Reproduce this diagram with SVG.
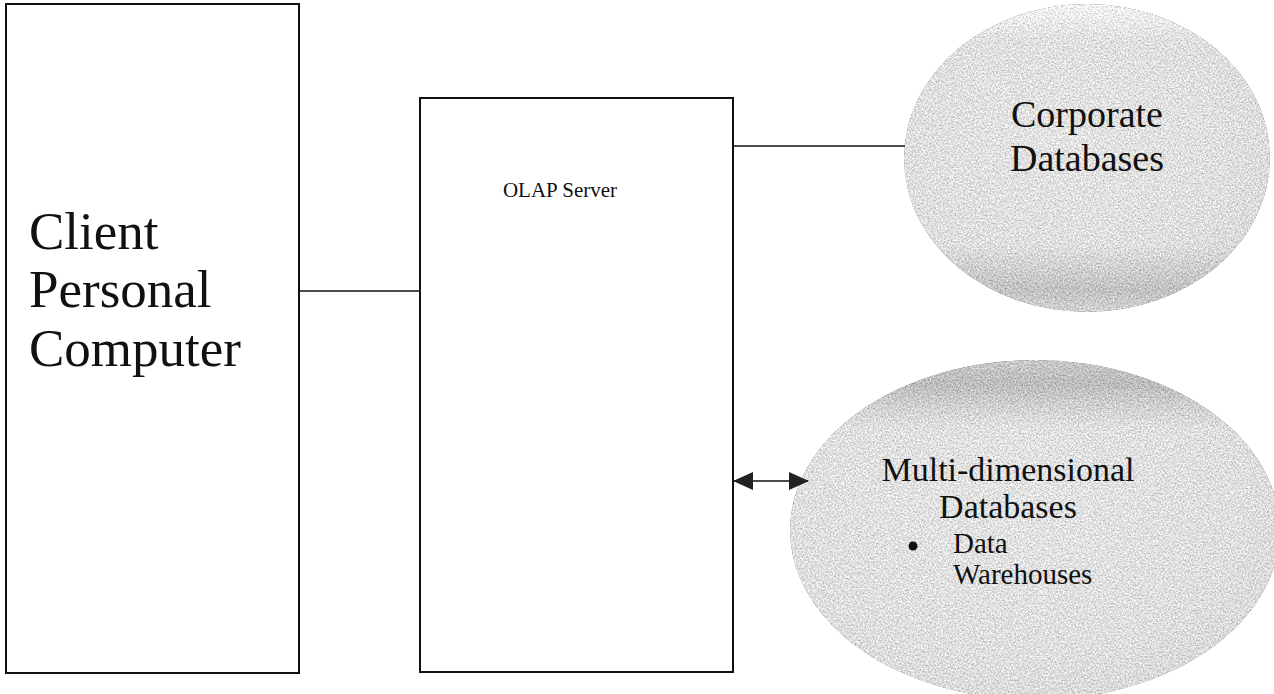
<svg xmlns="http://www.w3.org/2000/svg" width="1274" height="694" viewBox="0 0 1274 694">
  <style>
    .box { fill: #ffffff; stroke: #111111; stroke-width: 2; }
    .wire { fill: none; stroke: #111111; stroke-width: 1.6; }
    .serif { font-family: "Liberation Serif", "Times New Roman", serif; fill: #111111; }
  </style>
  <defs>
    <!-- speckled surface for the database discs: gray noise added onto the fill, clipped to the shape -->
    <filter id="grain" x="0" y="0" width="100%" height="100%" color-interpolation-filters="sRGB">
      <feTurbulence type="fractalNoise" baseFrequency="0.6" numOctaves="3" seed="7" result="n"/>
      <feColorMatrix in="n" type="matrix" values="1 0 0 0 0  1 0 0 0 0  1 0 0 0 0  0 0 0 0 1" result="gray"/>
      <feComposite in="SourceGraphic" in2="gray" operator="arithmetic" k1="0" k2="1" k3="0.5" k4="-0.24" result="mix"/>
      <feComposite in="mix" in2="SourceGraphic" operator="in"/>
    </filter>
    <radialGradient id="discFill" cx="0.45" cy="0.42" r="0.62">
      <stop offset="0" stop-color="#e0e0e0"/>
      <stop offset="0.75" stop-color="#dcdcdc"/>
      <stop offset="1" stop-color="#d6d6d6"/>
    </radialGradient>
    <linearGradient id="shadeBottom" x1="0" y1="0" x2="0" y2="1">
      <stop offset="0.78" stop-color="#a4a4a4" stop-opacity="0"/>
      <stop offset="0.93" stop-color="#a4a4a4" stop-opacity="0.5"/>
      <stop offset="1" stop-color="#a4a4a4" stop-opacity="0.15"/>
    </linearGradient>
    <linearGradient id="shadeTop" x1="0" y1="0" x2="0" y2="1">
      <stop offset="0" stop-color="#9c9c9c" stop-opacity="0.35"/>
      <stop offset="0.07" stop-color="#9c9c9c" stop-opacity="0.55"/>
      <stop offset="0.2" stop-color="#a8a8a8" stop-opacity="0"/>
    </linearGradient>
    <linearGradient id="fadeTop" x1="0" y1="0" x2="0" y2="1">
      <stop offset="0" stop-color="#ffffff" stop-opacity="0.6"/>
      <stop offset="0.12" stop-color="#ffffff" stop-opacity="0"/>
    </linearGradient>
    <marker id="tri" viewBox="0 0 20 18" refX="19" refY="9" markerWidth="20" markerHeight="18" orient="auto-start-reverse" markerUnits="userSpaceOnUse">
      <path d="M0,0 L20,9 L0,18 Z" fill="#222222"/>
    </marker>
  </defs>

  <g id="client-pc">
    <rect class="box" x="6" y="4" width="293" height="669"/>
    <text class="serif" font-size="53" x="29" y="249">Client</text>
    <text class="serif" font-size="53" x="29" y="307">Personal</text>
    <text class="serif" font-size="53" x="29" y="366">Computer</text>
  </g>

  <g id="olap-server">
    <rect class="box" x="420" y="98" width="313" height="574"/>
    <text class="serif" font-size="21" x="560" y="197" text-anchor="middle">OLAP Server</text>
  </g>

  <g id="corporate-db">
    <g filter="url(#grain)">
      <ellipse cx="1087" cy="158" rx="183" ry="154" fill="url(#discFill)"/>
      <ellipse cx="1087" cy="158" rx="183" ry="154" fill="url(#shadeBottom)"/>
      <ellipse cx="1087" cy="158" rx="183" ry="154" fill="url(#fadeTop)"/>
    </g>
    <text class="serif" font-size="38" x="1087" y="127" text-anchor="middle">Corporate</text>
    <text class="serif" font-size="38" x="1087" y="171" text-anchor="middle">Databases</text>
  </g>

  <g id="multidim-db">
    <g filter="url(#grain)">
      <ellipse cx="1035" cy="530" rx="245" ry="170" fill="url(#discFill)"/>
      <ellipse cx="1035" cy="530" rx="245" ry="170" fill="url(#shadeTop)"/>
    </g>
    <text class="serif" font-size="34" x="1008" y="481" text-anchor="middle">Multi-dimensional</text>
    <text class="serif" font-size="34" x="1008" y="518" text-anchor="middle">Databases</text>
    <circle cx="913" cy="546" r="4.5" fill="#111111"/>
    <text class="serif" font-size="29" x="953" y="553">Data</text>
    <text class="serif" font-size="29" x="953" y="584">Warehouses</text>
  </g>

  <g id="connectors">
    <line class="wire" x1="299" y1="291" x2="420" y2="291"/>
    <line class="wire" x1="733" y1="146" x2="905" y2="146"/>
    <line class="wire" x1="734" y1="481" x2="808" y2="481" stroke-width="2" marker-start="url(#tri)" marker-end="url(#tri)"/>
  </g>
</svg>
